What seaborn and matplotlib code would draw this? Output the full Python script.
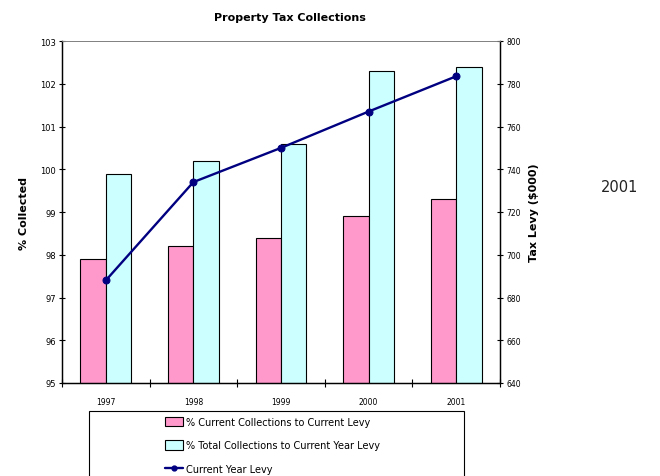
import numpy as np
import pandas as pd
import matplotlib
matplotlib.use("Agg")
import matplotlib.pyplot as plt
from matplotlib.patches import Rectangle
from matplotlib.lines import Line2D
from matplotlib.patches import Patch
import seaborn as sns

years = ["1997", "1998", "1999", "2000", "2001"]
current_collections = [97.9, 98.2, 98.4, 98.9, 99.3]
total_collections = [99.9, 100.2, 100.6, 102.3, 102.4]
current_levy = [688, 734, 750, 767, 783.5]

series_names = ["% Current Collections to Current Levy",
                "% Total Collections to Current Year Levy"]
line_name = "Current Year Levy"

pink = "#FF99CC"
cyan = "#CCFFFF"
navy = "#000080"

sns.set_theme(style="ticks")
plt.rcParams["font.family"] = ["DejaVu Sans"]
plt.rcParams["text.color"] = "black"
plt.rcParams["xtick.color"] = "black"
plt.rcParams["ytick.color"] = "black"
plt.rcParams["axes.labelcolor"] = "black"

df = pd.DataFrame({
    "year": years * 2,
    "value": current_collections + total_collections,
    "series": [series_names[0]] * len(years) + [series_names[1]] * len(years),
})

fig = plt.figure(figsize=(6.6, 4.77), dpi=100)
ax = fig.add_axes([62 / 660, 1 - 384 / 477, 438 / 660, 342 / 477])

sns.barplot(data=df, x="year", y="value", hue="series",
            palette=[pink, cyan], saturation=1, width=0.58,
            edgecolor="black", linewidth=0.8, ax=ax, legend=False)
ax.set_ylim(95, 103)
ax.set_xlim(-0.5, len(years) - 0.5)
ax.set_yticks(range(95, 104))
ax.set_xlabel("")
ax.set_ylabel("% Collected", fontsize=8, fontweight="bold", labelpad=8)

ax2 = ax.twinx()
sns.lineplot(x=np.arange(len(years)), y=current_levy, ax=ax2, color=navy,
             marker="o", markersize=5, markeredgecolor=navy, linewidth=1.7)
ax2.set_ylim(640, 800)
ax2.set_yticks(range(640, 801, 20))
ax2.set_xlim(-0.5, len(years) - 0.5)
ax2.set_ylabel("Tax Levy ($000)", fontsize=8, fontweight="bold", labelpad=6)

# category labels at centres, tick marks on boundaries
ax.set_xticks(range(len(years)))
ax.set_xticklabels(years)
ax.set_xticks(np.arange(-0.5, len(years)), minor=True)
ax.tick_params(axis="x", which="major", length=0, labelsize=5.5, pad=10)
ax.tick_params(axis="x", which="minor", length=6, width=0.8,
               direction="inout", bottom=True)
ax.tick_params(axis="y", which="major", length=5, width=0.8,
               direction="inout", labelsize=6, pad=2, left=True)
ax2.tick_params(axis="y", which="major", length=5, width=0.8,
                direction="inout", labelsize=5.5, pad=2, right=True)

for a in (ax, ax2):
    for side in ("left", "right", "bottom", "top"):
        a.spines[side].set_visible(True)
        a.spines[side].set_color("black")
        a.spines[side].set_linewidth(0.9)
    a.spines["top"].set_color("#808080")
    a.spines["top"].set_linewidth(0.6)

fig.text(290 / 660, 1 - 18 / 477, "Property Tax Collections",
         ha="center", va="center", fontsize=8, fontweight="bold")
fig.text(620 / 660, 1 - 188 / 477, "2001", ha="center", va="center",
         fontsize=10.5, color="#222222")

# legend box
fig.patches.append(Rectangle((89 / 660, -0.05), (464 - 89) / 660,
                             (1 - 412 / 477) + 0.05,
                             transform=fig.transFigure, fill=False,
                             edgecolor="black", linewidth=0.8))
handles = [Patch(facecolor=pink, edgecolor="black", linewidth=0.8),
           Patch(facecolor=cyan, edgecolor="black", linewidth=0.8),
           Line2D([0], [0], color=navy, lw=1.7, marker="o", markersize=3.5)]
fig.legend(handles, series_names + [line_name], loc="upper left",
           bbox_to_anchor=(158 / 660, 1 - 411 / 477), frameon=False,
           fontsize=7, labelspacing=1.4, handlelength=1.9,
           handleheight=1.1, handletextpad=0.3, borderaxespad=0.3)

fig.savefig("out.png", dpi=100)
